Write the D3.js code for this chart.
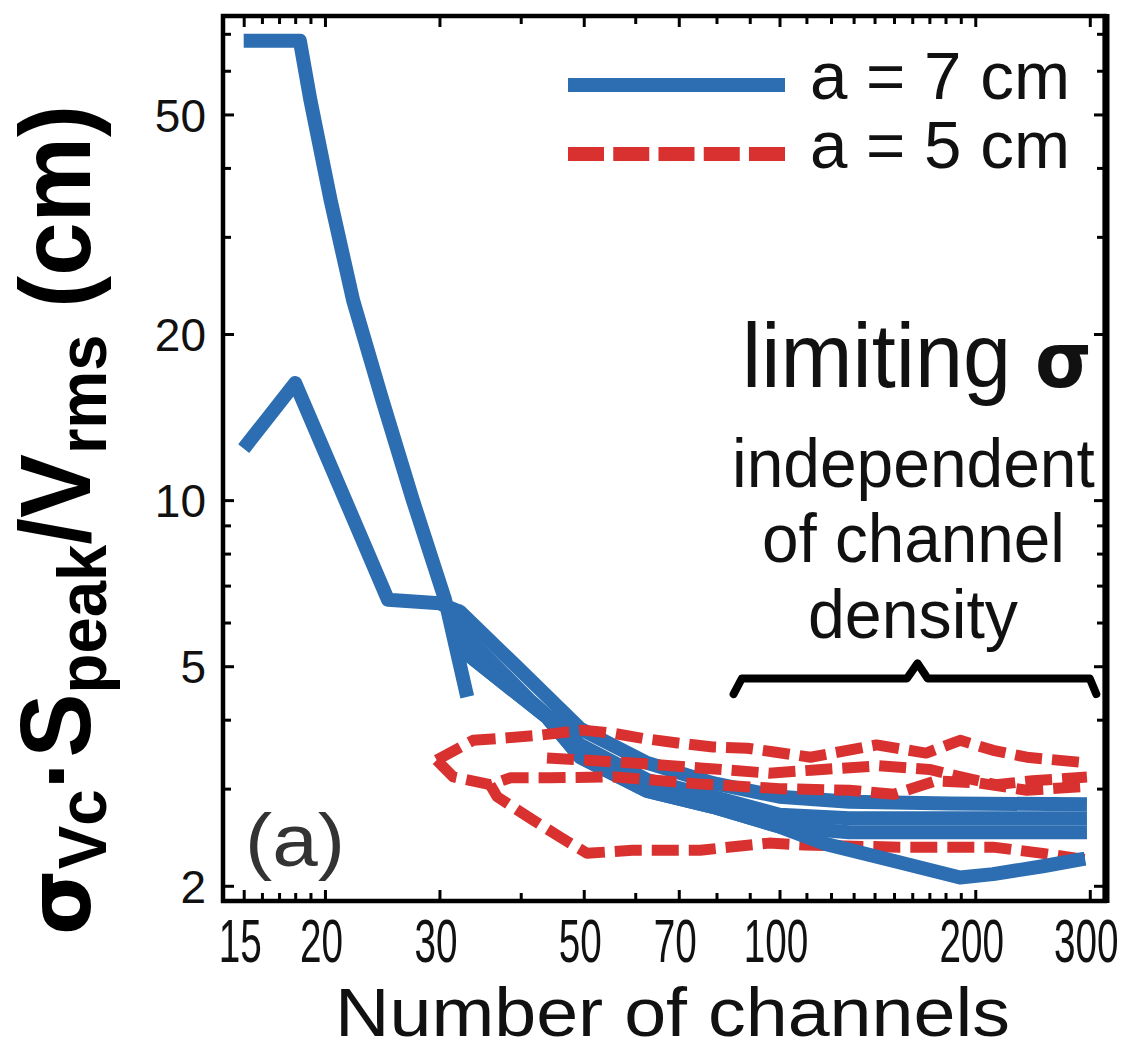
<!DOCTYPE html>
<html><head><meta charset="utf-8">
<script src="https://cdn.jsdelivr.net/npm/d3@7"></script>
<style>body{margin:0;background:#fff} svg{display:block}</style>
</head><body>
<svg id="chart" width="1135" height="1050"></svg>
<script>
// ---- curves: number of channels vs. limiting resolution (cm) ----
// a = 7 cm
const b1N = [15, 18.3, 19, 20.4, 22.1, 24.5, 27.3, 30.6, 33.1];
const b1V = [68, 68, 53, 35, 23, 15.2, 10, 6.6, 4.4];
const b2N = [15, 18, 25, 30, 32.3, 38.9, 49.4, 62.6, 79, 100, 128, 183, 297];
const b2V = [12.4, 16.3, 6.6, 6.5, 6.27, 5.07, 3.85, 3.34, 3.07, 2.90, 2.84, 2.82, 2.81];
const b3N = [31.7, 33.4, 41.3, 49.4, 62.6, 79, 100, 128, 297];
const b3V = [6.4, 5.58, 4.34, 3.60, 3.11, 2.90, 2.69, 2.65, 2.65];
const b4N = [31.7, 33.1, 43.9, 49.4, 62.6, 79, 100, 118, 149.5, 189.5, 213, 254, 295];
const b4V = [5.94, 5.26, 4.04, 3.42, 2.97, 2.78, 2.56, 2.38, 2.22, 2.07, 2.10, 2.17, 2.24];
const b5N = [31.7, 33.1, 43.9, 49.4, 62.6, 79, 100, 128, 297];
const b5V = [5.94, 5.26, 4.04, 3.42, 2.97, 2.78, 2.56, 2.50, 2.50];
// a = 5 cm
const r1N = [29.7, 33.8, 37.2, 42.8, 49.9, 55.4, 61.6, 69.7, 79, 89.3, 97.5, 111.6, 141, 168, 189.6, 213, 240, 297];
const r1V = [3.38, 3.67, 3.70, 3.75, 3.83, 3.78, 3.70, 3.63, 3.57, 3.55, 3.50, 3.42, 3.60, 3.48, 3.67, 3.52, 3.42, 3.34];
const r2N = [29.7, 31.5, 35.9, 38.6, 44.4, 56, 75, 100, 128, 150, 174, 203, 240, 297];
const r2V = [3.38, 3.15, 3.05, 3.14, 3.14, 3.15, 3.06, 3.0, 2.98, 2.93, 3.10, 3.07, 2.98, 3.03];
const r3N = [35.9, 36.8, 41.8, 46, 50.6, 59.4, 75.5, 96.4, 109, 153, 213, 254, 297];
const r3V = [3.05, 2.90, 2.63, 2.45, 2.29, 2.32, 2.32, 2.39, 2.37, 2.35, 2.35, 2.29, 2.23];
const r4N = [43.9, 59.4, 75.5, 96.4, 112, 142, 170, 190, 215, 245, 297];
const r4V = [3.41, 3.34, 3.27, 3.20, 3.24, 3.30, 3.25, 3.15, 3.05, 3.10, 3.15];

// ---- axes ----
const xMajor = [15, 20, 30, 50, 70, 100, 200, 300];
const xMinor = [16, 17, 18, 19, 40, 60, 80, 90, 110, 120, 130, 140, 150, 160, 170, 180, 190];
const yMajor = [2, 5, 10, 20, 50];
const yMinor = [3, 4, 6, 7, 8, 9, 30, 40, 60, 70];
const seriesLabels = ["a = 7 cm", "a = 5 cm"];
const xTitle = "Number of channels";

const blue = "#2c6eb1", red = "#d8312f";
const L = 223, R = 1105, T = 16, B = 901;

const svg = d3.select("#chart");
const x = d3.scaleLog().domain([13.94, 316.6]).range([L, R]);
const y = d3.scaleLog().domain([1.877, 75.4]).range([B, T]);

// stretch a text element horizontally so it spans [x0, x1]
function fit(textSel, x0, x1) {
  const bb = textSel.node().getBBox();
  const s = (x1 - x0) / bb.width;
  textSel.attr("transform", `translate(${x0 - s * bb.x},0) scale(${s},1)`);
}

// ---- curves ----
const line = d3.line().x(d => x(d[0])).y(d => y(d[1]));
const pairs = (n, v) => n.map((d, i) => [d, v[i]]);
function draw(n, v, color, dashed) {
  svg.append("path").datum(pairs(n, v))
    .attr("d", line).attr("fill", "none")
    .attr("stroke", color).attr("stroke-width", dashed ? 11 : 14)
    .attr("stroke-linejoin", "round")
    .attr("stroke-dasharray", dashed ? "27,10" : null);
}
draw(r3N, r3V, red, true);
draw(b1N, b1V, blue, false);
draw(b2N, b2V, blue, false);
draw(b3N, b3V, blue, false);
draw(b5N, b5V, blue, false);
draw(b4N, b4V, blue, false);
draw(r1N, r1V, red, true);
draw(r2N, r2V, red, true);
draw(r4N, r4V, red, true);

// ---- ticks on all four sides, pointing inward ----
function ticks(axisFn, vals, size, tr) {
  const g = svg.append("g").attr("transform", tr)
    .call(axisFn.tickValues(vals).tickSize(-size).tickFormat(""));
  g.select(".domain").remove();
  g.selectAll(".tick line").attr("stroke", "#000").attr("stroke-width", 3);
  return g;
}
ticks(d3.axisBottom(x), xMinor, 8, `translate(0,${B})`);
ticks(d3.axisTop(x), xMinor, 8, `translate(0,${T})`);
ticks(d3.axisTop(x), xMajor, 11, `translate(0,${T})`);
ticks(d3.axisLeft(y), yMinor, 8, `translate(${L},0)`);
ticks(d3.axisRight(y), yMinor, 8, `translate(${R},0)`);
ticks(d3.axisRight(y), yMajor, 11, `translate(${R},0)`);

// bottom labels use a tall, narrow digit shape
const sx = 0.967, sy = 1.536;
const gx = svg.append("g").attr("transform", `translate(0,${B})`)
  .call(d3.axisBottom(x).tickValues(xMajor).tickSize(-11).tickFormat(d3.format("d")));
gx.select(".domain").remove();
gx.selectAll(".tick line").attr("stroke", "#000").attr("stroke-width", 3);
gx.selectAll(".tick text")
  .attr("transform", `scale(${sx},${sy})`)
  .attr("y", 61 / sy).attr("dy", 0).attr("x", -4 / sx)
  .attr("font-family", "Liberation Sans, Arial, sans-serif")
  .attr("font-size", 40).attr("fill", "#111");

const gy = svg.append("g").attr("transform", `translate(${L},0)`)
  .call(d3.axisLeft(y).tickValues(yMajor).tickSize(-11).tickFormat(d3.format("d")));
gy.select(".domain").remove();
gy.selectAll(".tick line").attr("stroke", "#000").attr("stroke-width", 3);
gy.selectAll(".tick text")
  .attr("x", -17).attr("dy", "0.36em")
  .attr("font-family", "Liberation Sans, Arial, sans-serif")
  .attr("font-size", 46).attr("fill", "#111");

// ---- frame ----
svg.append("rect").attr("x", L).attr("y", T).attr("width", R - L).attr("height", B - T)
  .attr("fill", "none").attr("stroke", "#000").attr("stroke-width", 4.5);
svg.append("line").attr("x1", R + 1).attr("x2", R + 1).attr("y1", T - 2).attr("y2", B + 2)
  .attr("stroke", "#000").attr("stroke-width", 7);

// ---- legend ----
const font = "Liberation Sans, Arial, sans-serif";
svg.append("line").attr("x1", 568).attr("x2", 785).attr("y1", 85).attr("y2", 85)
  .attr("stroke", blue).attr("stroke-width", 14);
svg.append("line").attr("x1", 568).attr("x2", 785).attr("y1", 154).attr("y2", 154)
  .attr("stroke", red).attr("stroke-width", 14).attr("stroke-dasharray", "36,9.25");
[[seriesLabels[0], 99], [seriesLabels[1], 168]].forEach(([t, by]) => {
  const tx = svg.append("text").attr("x", 0).attr("y", by)
    .attr("font-family", font).attr("font-size", 66).attr("fill", "#111").text(t);
  fit(tx, 810, 1070);
});

// ---- annotation ----
const lim = svg.append("text").attr("y", 387).attr("font-family", font).attr("font-size", 90).attr("fill", "#111");
lim.append("tspan").text("limiting ");
lim.append("tspan").attr("font-weight", "bold").attr("font-family", "DejaVu Sans, sans-serif").attr("font-size", 76).text("σ");
fit(lim, 742, 1092);

[["independent", 487, 732, 1095], ["of channel", 562, 762, 1065], ["density", 638, 808, 1018]]
  .forEach(([t, by, x0, x1]) => {
    const tx = svg.append("text").attr("y", by).attr("font-family", font)
      .attr("font-size", 68).attr("fill", "#111").text(t);
    fit(tx, x0, x1);
  });

// brace spanning the high channel-count range
const braceN = [85, 87.5, 157, 163, 169, 300, 307];
const braceV = [4.45, 4.75, 4.75, 5.06, 4.75, 4.75, 4.45];
svg.append("path").datum(pairs(braceN, braceV)).attr("d", line)
  .attr("fill", "none").attr("stroke", "#000").attr("stroke-width", 8)
  .attr("stroke-linejoin", "round").attr("stroke-linecap", "round");

const pa = svg.append("text").attr("y", 866).attr("font-family", font)
  .attr("font-size", 74).attr("fill", "#333").text("(a)");
fit(pa, 245, 345);

// ---- axis titles ----
const xt = svg.append("text").attr("y", 1036).attr("font-family", font)
  .attr("font-size", 68).attr("fill", "#111").text(xTitle);
fit(xt, 335, 1010);

const yg = svg.append("g").attr("transform", "translate(90,0) rotate(-90)");
const yt = yg.append("text").attr("y", 0).attr("font-family", font)
  .attr("font-weight", "bold").attr("font-size", 100).attr("fill", "#000");
yt.append("tspan").attr("font-family", "DejaVu Sans, sans-serif").attr("font-size", 88).text("σ");
yt.append("tspan").attr("font-size", 68).attr("dy", 16).text("Vc");
yt.append("tspan").attr("dy", -16).text("·S");
yt.append("tspan").attr("font-size", 68).attr("dy", 16).text("peak");
yt.append("tspan").attr("dy", -16).text("/V");
yt.append("tspan").attr("font-size", 68).attr("dy", 16).text("rms");
yt.append("tspan").attr("dy", -16).text(" (cm)");
fit(yt, -935, -105);
</script>
</body></html>
